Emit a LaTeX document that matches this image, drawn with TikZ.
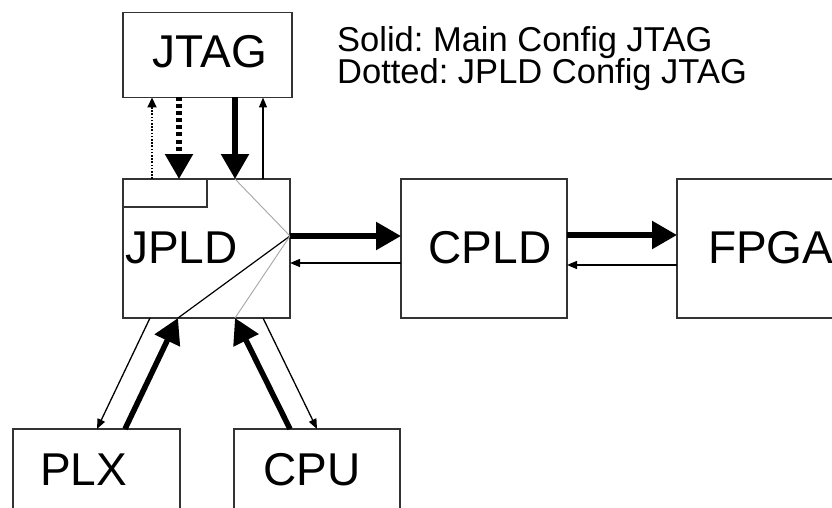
\documentclass[tikz,border=0pt]{standalone}
\usepackage{fontspec}
\setmainfont{Liberation Sans}
\usetikzlibrary{arrows.meta,calc}
\frenchspacing
\begin{document}
\begin{tikzpicture}[x=1pt,y=-1pt,
 box/.style={draw=black!80, line width=1.4pt, fill=white, rectangle, inner sep=0pt, outer sep=0pt},
 lbl/.style={font=\fontsize{46}{54}\selectfont, inner sep=0pt},
 legendtext/.style={font=\fontsize{34.5}{38}\selectfont, inner sep=0pt, anchor=base west},
 thickarr/.style={line width=5.5pt, -{Triangle[width=27pt,length=25pt]}},
 thinarr/.style={line width=1.3pt, -{Triangle[width=8pt,length=10pt]}},
 thickdot/.style={line width=5.5pt, dash pattern=on 4pt off 3pt, -{Triangle[width=27pt,length=25pt]}},
 thindot/.style={line width=2.2pt, dash pattern=on 1.6pt off 1.6pt, -{Triangle[width=9pt,length=10pt]}},
 graywire/.style={draw=black!35, line width=0.9pt},
 blackwire/.style={draw=black, line width=1.2pt}
 ]
\useasboundingbox (0,0) rectangle (832,508);
% boxes
\node[box, minimum width=169pt, minimum height=85pt] (jtag) at (207.5,55) {};
\node[box, minimum width=167pt, minimum height=139pt] (jpld) at (206.5,248.5) {};
\node[box, minimum width=84pt, minimum height=28pt, anchor=north west] (jpldsub) at (jpld.north west) {};
\node[box, minimum width=166pt, minimum height=139pt] (cpld) at (484,248.5) {};
\node[box, minimum width=183pt, minimum height=139pt] (fpga) at (768.5,248.5) {};
\node[box, minimum width=167pt, minimum height=111pt] (plx) at (96.5,484.5) {};
\node[box, minimum width=166pt, minimum height=111pt] (cpu) at (317,484.5) {};
% labels
\node[lbl, anchor=base] (jtaglbl) at (210,68) {JTAG};
\node[lbl, anchor=base west] (jpldlbl) at (125,263) {JPLD};
\node[lbl, anchor=base] (cpldlbl) at (490,263) {CPLD};
\node[lbl, anchor=base west] (fpgalbl) at (708,263) {FPGA};
\node[lbl, anchor=base west] (plxlbl) at (40,485) {PLX};
\node[lbl, anchor=base west] (cpulbl) at (263,485) {CPU};
% legend
\node[legendtext] (legend1) at (337,52) {Solid: Main Config JTAG};
\node[legendtext] (legend2) at (337,84) {Dotted: JPLD Config JTAG};
% internal JPLD wiring
\coordinate (hub) at ([yshift=12.5pt]jpld.east);
\draw[graywire] (hub) -- ([xshift=112pt]jpld.north west);
\draw[blackwire] (hub) -- ([xshift=55pt]jpld.south west);
\draw[graywire] (hub) -- ([xshift=112pt]jpld.south west);
% JTAG <-> JPLD
\draw[thindot] ([xshift=29pt]jpld.north west) -- ([xshift=29pt]jtag.south west);
\draw[thickdot] ([xshift=56pt]jtag.south west) -- ([xshift=56pt]jpld.north west);
\draw[thickarr] ([xshift=112pt]jtag.south west) -- ([xshift=112pt]jpld.north west);
\draw[thinarr] ([xshift=140pt]jpld.north west) -- ([xshift=140pt]jtag.south west);
% JPLD <-> CPLD
\draw[thickarr] (hub) -- ([yshift=12.5pt]cpld.west);
\draw[thinarr] ([yshift=-14.5pt]cpld.west) -- ([yshift=-14.5pt]jpld.east);
% CPLD <-> FPGA
\draw[thickarr] ([yshift=13.5pt]cpld.east) -- ([yshift=13.5pt]fpga.west);
\draw[thinarr] ([yshift=-16.5pt]fpga.west) -- ([yshift=-16.5pt]cpld.east);
% JPLD <-> PLX
\draw[thinarr] ([xshift=27pt]jpld.south west) -- ([xshift=84pt]plx.north west);
\draw[thickarr] ([xshift=112pt]plx.north west) -- ([xshift=55pt]jpld.south west);
% JPLD <-> CPU
\draw[thickarr] ([xshift=56pt]cpu.north west) -- ([xshift=112pt]jpld.south west);
\draw[thinarr] ([xshift=140pt]jpld.south west) -- ([xshift=83pt]cpu.north west);
\end{tikzpicture}
\end{document}
